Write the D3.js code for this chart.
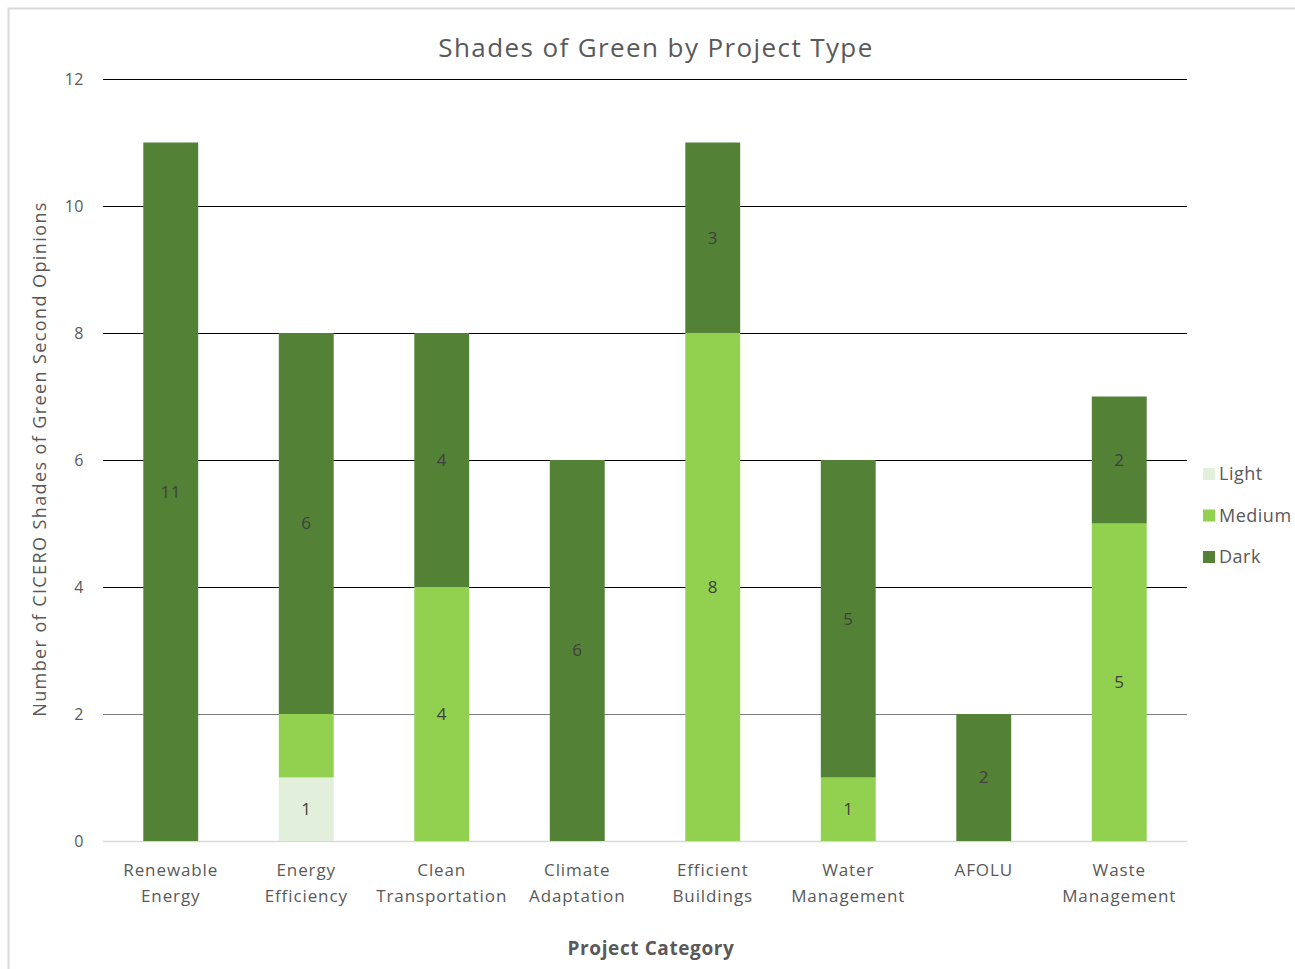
<!DOCTYPE html>
<html><head><meta charset="utf-8">
<script src="https://cdn.jsdelivr.net/npm/d3@7"></script>
<style>body{margin:0;background:#fff}svg{display:block}</style>
</head><body>
<script>
const categories = [["Renewable","Energy"],["Energy","Efficiency"],["Clean","Transportation"],["Climate","Adaptation"],["Efficient","Buildings"],["Water","Management"],["AFOLU",""],["Waste","Management"]];
const seriesNames = ["Light","Medium","Dark"];
const lightVals  = [0,1,0,0,0,0,0,0];
const mediumVals = [0,1,4,0,8,1,0,5];
const darkVals   = [11,6,4,6,3,5,2,2];
const mediumLabelShown = [false,false,true,false,true,true,false,true];
const yTicks = [0,2,4,6,8,10,12];
const colors = ["#e2efda","#92d050","#538135"];

const W=1295,H=969;
const svg=d3.select("body").append("svg").attr("width",W).attr("height",H);
svg.append("rect").attr("x",8.5).attr("y",8.5).attr("width",W).attr("height",H).attr("fill","#fff").attr("stroke","#d9d9d9").attr("stroke-width",2);

const x=d3.scaleBand().domain(d3.range(categories.length)).range([103,1187]).paddingInner(0.595).paddingOuter(0.2975);
const y=d3.scaleLinear().domain([0,12]).range([841,79]);
const font="'Open Sans', Lato, sans-serif";

svg.append("g").selectAll("line").data(yTicks).join("line")
  .attr("x1",103).attr("x2",1187).attr("y1",d=>y(d)+0.5).attr("y2",d=>y(d)+0.5)
  .attr("stroke",d=>d===0?"#d9d9d9":(d===2?"#7f7f7f":"#000")).attr("stroke-width",d=>d===0?1.5:1.2);

const yAxis=d3.axisLeft(y).tickValues(yTicks).tickSize(0).tickPadding(0);
const ya=svg.append("g").attr("transform","translate(84,0)").call(yAxis);
ya.select(".domain").remove();
ya.selectAll("text").attr("font-family",font).attr("font-size",16).attr("fill","#595959").attr("dy","0.32em").attr("letter-spacing",0.5);

const rows=categories.map((c,i)=>({i,Light:lightVals[i],Medium:mediumVals[i],Dark:darkVals[i]}));
const stack=d3.stack().keys(seriesNames)(rows);
const g=svg.append("g");
stack.forEach((s,si)=>{
  g.append("g").attr("fill",colors[si]).selectAll("rect").data(s).join("rect")
   .attr("x",d=>x(d.data.i)).attr("width",x.bandwidth())
   .attr("y",d=>y(d[1])).attr("height",d=>y(d[0])-y(d[1]));
  g.append("g").selectAll("text").data(s.filter(d=>d[1]-d[0]>0 && !(si===1 && !mediumLabelShown[d.data.i]))).join("text")
   .attr("x",d=>x(d.data.i)+x.bandwidth()/2).attr("y",d=>y((d[0]+d[1])/2)).attr("dy","0.35em")
   .attr("text-anchor","middle").attr("font-family",font).attr("font-size",17).attr("fill","#404040").attr("letter-spacing",0.5)
   .text(d=>d[1]-d[0]);
});

const xa=svg.append("g");
categories.forEach((c,i)=>{
  const cx=x(i)+x.bandwidth()/2;
  const t=xa.append("text").attr("text-anchor","middle")
   .attr("font-family",font).attr("font-size",17).attr("fill","#595959").attr("letter-spacing",0.9);
  t.append("tspan").attr("x",cx).attr("y",876).text(c[0]);
  if(c[1]) t.append("tspan").attr("x",cx).attr("y",902).text(c[1]);
});

svg.append("text").attr("x",656).attr("y",57).attr("text-anchor","middle").attr("font-family",font)
  .attr("font-size",26).attr("letter-spacing",1.4).attr("fill","#595959").text("Shades of Green by Project Type");
svg.append("text").attr("x",651).attr("y",955).attr("text-anchor","middle").attr("font-family",font)
  .attr("font-size",19).attr("font-weight","bold").attr("letter-spacing",0.6).attr("fill","#595959").text("Project Category");
svg.append("text").attr("transform","translate(46,459) rotate(-90)").attr("text-anchor","middle").attr("font-family",font)
  .attr("font-size",18).attr("letter-spacing",1.4).attr("fill","#595959").text("Number of CICERO Shades of Green Second Opinions");

const lg=svg.append("g");
seriesNames.forEach((n,i)=>{
  const yy=474+i*41.5;
  lg.append("rect").attr("x",1203).attr("y",yy-6).attr("width",12).attr("height",12).attr("fill",colors[i]);
  lg.append("text").attr("x",1219).attr("y",yy).attr("dy","0.35em").attr("font-family",font).attr("font-size",18).attr("letter-spacing",0.5).attr("fill","#595959").text(n);
});
</script>
</body></html>
